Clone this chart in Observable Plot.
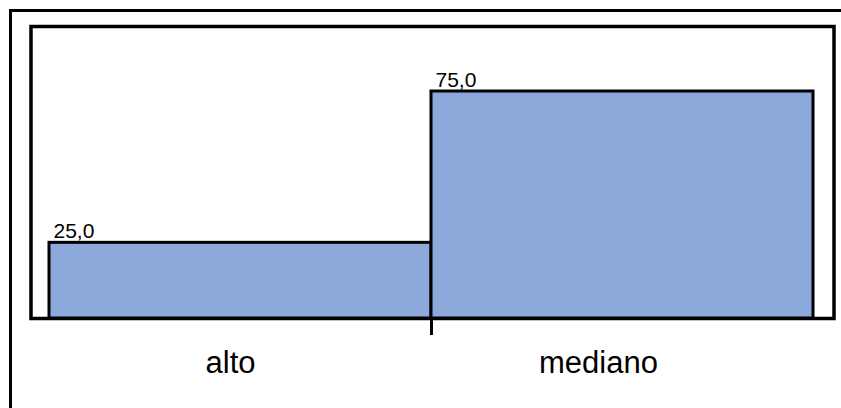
<!DOCTYPE html>
<html>
<head>
<meta charset="utf-8">
<script src="https://cdn.jsdelivr.net/npm/d3@7"></script>
<script src="https://cdn.jsdelivr.net/npm/@observablehq/plot@0.6"></script>
<style>
  html, body { margin: 0; padding: 0; background: #fff; overflow: hidden; }
  svg { display: block; }
</style>
</head>
<body>
<div id="chart"></div>
<script>
const categories = ["alto", "mediano"];
const percents = [25.0, 75.0];

const data = categories.map((c, i) => ({cat: c, i, value: percents[i]}));
const fmt = v => v.toFixed(1).replace(".", ",");

const chart = Plot.plot({
  width: 841,
  height: 408,
  marginLeft: 49,
  marginRight: 28,
  marginTop: 91,
  marginBottom: 90,
  style: {fontFamily: "'Liberation Sans', Arial, sans-serif", background: "#fff"},
  x: {type: "linear", domain: [0, categories.length], axis: null},
  y: {domain: [0, 75], axis: null},
  marks: [
    Plot.frame({stroke: "#000", strokeWidth: 3, insetLeft: -39, insetTop: -81, insetRight: -60, insetBottom: -120}),
    Plot.frame({stroke: "#000", strokeWidth: 3.5, insetLeft: -18.5, insetTop: -65, insetRight: -20.5, insetBottom: 0}),
    Plot.rectY(data, {x1: "i", x2: d => d.i + 1, y: "value", fill: "#8ba9db", stroke: "#000", strokeWidth: 3}),
    Plot.ruleX(data.slice(1), {x: "i", y1: 0, y2: 0, insetBottom: -17, stroke: "#000", strokeWidth: 3}),
    Plot.text(data, {x: "i", y: "value", text: d => fmt(d.value), textAnchor: "start", lineAnchor: "bottom", dx: 4, dy: -5, fontSize: 21, fill: "#000"}),
    Plot.text(data.slice(0, 1), {x: d => d.i + 0.5, y: 0, text: "cat", lineAnchor: "middle", dy: 45, dx: -10, fontSize: 31, fill: "#000"}),
    Plot.text(data.slice(1), {x: d => d.i + 0.5, y: 0, text: "cat", lineAnchor: "middle", dy: 45, dx: -24, fontSize: 31, fill: "#000"})
  ]
});
document.getElementById("chart").appendChild(chart);
</script>
</body>
</html>
